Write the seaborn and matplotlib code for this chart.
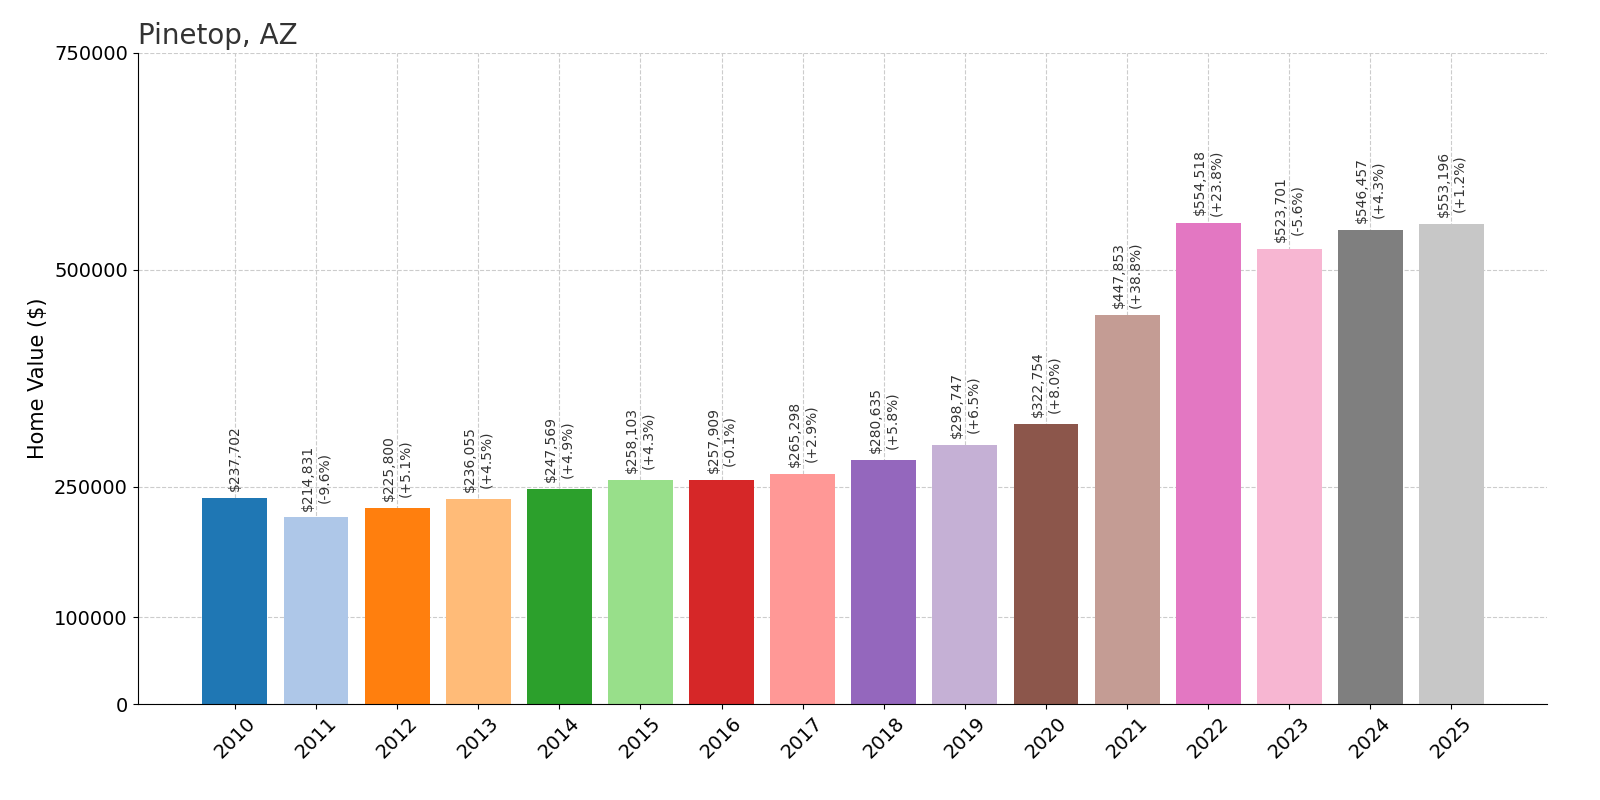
import matplotlib
matplotlib.use("Agg")
import matplotlib.pyplot as plt
import seaborn as sns
import pandas as pd

years = [str(y) for y in range(2010, 2026)]
values = [237702, 214831, 225800, 236055, 247569, 258103, 257909, 265298,
          280635, 298747, 322754, 447853, 554518, 523701, 546457, 553196]
changes = [None, "-9.6%", "+5.1%", "+4.5%", "+4.9%", "+4.3%", "-0.1%", "+2.9%",
           "+5.8%", "+6.5%", "+8.0%", "+38.8%", "+23.8%", "-5.6%", "+4.3%", "+1.2%"]
yticks = [0, 100000, 250000, 500000, 750000]

df = pd.DataFrame({"year": years, "value": values})
palette = sns.color_palette("tab20", 16)

fig = plt.figure(figsize=(16, 8), dpi=100)
ax = fig.add_axes([0.086, 0.12, 0.881, 0.814])
sns.barplot(data=df, x="year", y="value", hue="year", palette=palette,
            legend=False, width=0.8, saturation=1, ax=ax, zorder=2)
ax.set_xlim(-1.2, len(years) - 1 + 1.18)
ax.set_ylim(0, 750000)
ax.set_yticks(yticks)
ax.set_yticklabels([str(t) for t in yticks])
ax.grid(True, linestyle="--", color="#cccccc", linewidth=0.8, zorder=0)
ax.set_axisbelow(True)
for s in ["top", "right"]:
    ax.spines[s].set_visible(False)
ax.tick_params(axis="both", labelsize=14)
plt.setp(ax.get_xticklabels(), rotation=45)
ax.set_xlabel("")
ax.set_ylabel("Home Value ($)", fontsize=15)
ax.set_title("Pinetop, AZ", fontsize=20, loc="left", color="#333333")
for i, (v, c) in enumerate(zip(values, changes)):
    txt = f"${v:,}" if c is None else f"${v:,}\n({c})"
    ax.text(i, v + 8000, txt, rotation=90, ha="center", va="bottom",
            fontsize=10, color="#333333")
fig.savefig("out.png", dpi=100)
